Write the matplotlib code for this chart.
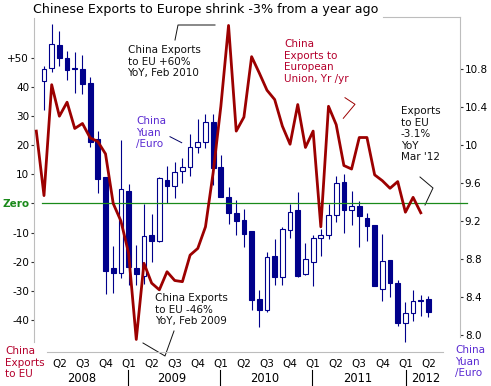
import numpy as np
import matplotlib
matplotlib.use('Agg')
import matplotlib.pyplot as plt
import matplotlib.transforms as mtransforms

# --- data ---
# months counted from Jan 2008 (0 = Jan 2008)
candle_month = list(range(1, 52))
yuan_open = [10.67, 10.81, 11.05, 10.92, 10.81, 10.80, 10.65, 10.06, 9.66, 8.70,
             8.65, 9.52, 8.70, 8.62, 9.05, 8.99, 9.63, 9.57, 9.73, 9.77,
             9.98, 10.03, 10.24, 9.77, 9.45, 9.28, 9.21, 9.09, 8.38, 8.26,
             8.83, 8.61, 9.10, 9.31, 8.64, 8.77, 9.02, 9.05, 9.26, 9.61,
             9.31, 9.36, 9.23, 9.16, 8.48, 8.79, 8.55, 8.13, 8.23, 8.37, 8.38]
yuan_high = [10.83, 11.27, 11.20, 10.99, 10.98, 10.95, 10.72, 10.15, 9.66, 8.94,
             10.05, 9.59, 8.95, 9.38, 9.27, 9.66, 9.78, 9.82, 9.86, 10.11,
             10.27, 10.33, 10.33, 9.89, 9.56, 9.42, 9.33, 9.09, 8.47, 8.87,
             9.01, 9.14, 9.38, 9.50, 8.97, 9.05, 9.11, 9.38, 9.67, 9.69,
             9.51, 9.41, 9.28, 9.16, 9.06, 8.79, 8.58, 8.35, 8.47, 8.42, 8.41]
yuan_low = [10.37, 10.77, 10.83, 10.68, 10.55, 10.54, 9.98, 9.49, 8.43, 8.44,
            8.60, 8.53, 8.53, 8.54, 8.77, 8.98, 9.39, 9.44, 9.60, 9.67,
            9.91, 9.97, 9.58, 9.45, 9.17, 9.05, 8.93, 8.26, 8.08, 8.24,
            8.53, 8.53, 9.02, 8.61, 8.63, 8.51, 8.83, 9.01, 9.19, 9.07,
            9.16, 8.93, 8.99, 8.51, 8.36, 8.40, 8.09, 7.93, 8.15, 8.20, 8.19]
yuan_close = [10.80, 11.06, 10.91, 10.79, 10.80, 10.64, 10.03, 9.64, 8.67, 8.65,
              9.54, 8.72, 8.64, 9.04, 8.99, 9.65, 9.57, 9.72, 9.77, 9.98,
              10.03, 10.24, 9.76, 9.45, 9.28, 9.20, 9.06, 8.37, 8.26, 8.82,
              8.61, 9.11, 9.29, 8.62, 8.80, 9.02, 9.05, 9.26, 9.60, 9.31,
              9.36, 9.25, 9.15, 8.51, 8.78, 8.55, 8.13, 8.23, 8.36, 8.36, 8.24]

export_month = list(range(0, 51))
export_yoy = [24.8, 2.7, 40.7, 29.9, 34.7, 25.7, 27.4, 22.5, 21.2, 17.0,
              0.0, -6.0, -17.0, -46.6, -20.5, -27.3, -29.6, -23.4, -26.4, -26.8,
              -17.7, -15.4, -8.0, 10.6, 33.3, 61.0, 24.8, 29.6, 50.3, 44.7,
              38.8, 35.6, 26.5, 20.3, 33.9, 19.2, 24.8, -8.0, 33.3, 27.0,
              13.0, 11.8, 22.6, 22.6, 9.8, 7.8, 5.2, 7.5, -3.0, 2.1, -3.2]

left_ticks = [50, 40, 30, 20, 10, 0, -10, -20, -30, -40]
left_labels = ['+50', '40', '30', '20', '10', 'Zero', '-10', '-20', '-30', '-40']
right_ticks = [10.8, 10.4, 10.0, 9.6, 9.2, 8.8, 8.4, 8.0]
right_labels = ['10.8', '10.4', '10', '9.6', '9.2', '8.8', '8.4', '8.0']
quarter_pos = list(range(3, 52, 3))
quarter_labels = ['Q2', 'Q3', 'Q4', 'Q1', 'Q2', 'Q3', 'Q4', 'Q1', 'Q2', 'Q3', 'Q4',
                  'Q1', 'Q2', 'Q3', 'Q4', 'Q1', 'Q2']
years = ['2008', '2009', '2010', '2011', '2012']
year_pos = [5.9, 17.6, 29.7, 41.8, 50.6]
year_breaks = [11.9, 23.9, 35.85, 48.05]

W, H = 491, 386
navy = '#00008b'
dark_red = '#9c0000'
text_red = '#b4002c'
purple = '#5a2ad2'
grey = '#bdbdbd'


def fx(x):
    return x / W


def fy(y):
    return 1 - y / H


fig = plt.figure(figsize=(W / 100, H / 100), dpi=100)
ax = fig.add_axes([fx(34), fy(352), (460 - 34) / W, (352 - 16.7) / H])
ax2 = ax.twinx()
ax.set_zorder(2)
ax2.set_zorder(1)
ax.patch.set_visible(False)

ax.set_xlim(-0.3, 55.1)
ax.set_ylim(-50.9, 64.0)
ax2.set_ylim(7.82, 11.35)

# candlesticks (right axis)
for m, o, h, l, c in zip(candle_month, yuan_open, yuan_high, yuan_low, yuan_close):
    ax2.vlines(m, l, h, color=navy, lw=0.8, zorder=2)
    face = navy if c < o else 'white'
    ax2.bar(m, abs(c - o), bottom=min(o, c), width=0.62, facecolor=face,
            edgecolor=navy, linewidth=0.8, zorder=3)

# zero line and exports line (left axis)
ax.axhline(0, xmin=0.019, xmax=1.016, color='#1a8a1a', lw=0.9, clip_on=False, zorder=3)
ax.plot(export_month, export_yoy, color=dark_red, lw=2.0, zorder=4)

# spines
for s in ['top', 'right']:
    ax.spines[s].set_visible(False)
for s in ['left', 'bottom']:
    ax2.spines[s].set_visible(False)
ax.spines['left'].set_color(grey)
ax.spines['bottom'].set_color(grey)
ax2.spines['right'].set_color(grey)
ax2.spines['top'].set_color(grey)
ax.spines['left'].set_bounds(-47.4, 63.5)
ax.spines['bottom'].set_bounds(1.4, 52.9)
ax2.spines['right'].set_bounds(7.98, 11.35)
ax2.spines['top'].set_bounds(45.1, 55.1)

# ticks
ax.set_yticks(left_ticks)
ax.set_yticklabels(left_labels)
ax.tick_params(axis='y', length=2.5, width=0.8, color='#333333', pad=1,
               labelsize=7.5, direction='out')
for lab in ax.get_yticklabels():
    if lab.get_text() == 'Zero':
        lab.set_color('#1a8a1a')
        lab.set_fontweight('bold')
ax2.set_yticks(right_ticks)
ax2.set_yticklabels(right_labels)
ax2.tick_params(axis='y', length=2.5, width=0.8, color='#333333', pad=1,
                labelsize=7.5, direction='out')
ax.set_xticks(quarter_pos)
ax.set_xticklabels(quarter_labels)
ax.tick_params(axis='x', length=0, pad=5, labelsize=7.5)

# years below quarters
xfig = mtransforms.blended_transform_factory(ax.transData, fig.transFigure)
for yr, p in zip(years, year_pos):
    ax.text(p, fy(378), yr, transform=xfig, ha='center', va='center', fontsize=8.3)
for b in year_breaks:
    ax.plot([b, b], [fy(370), fy(386)], color='black', lw=0.8, clip_on=False,
            transform=xfig)

# title
fig.text(fx(33), fy(10), 'Chinese Exports to Europe shrink -3% from a year ago',
         ha='left', va='center', fontsize=9.1)

# annotations
ts = dict(ha='left', va='top', fontsize=7.5, linespacing=1.2)
fig.text(fx(127.5), fy(45), 'China Exports\nto EU +60%\nYoY, Feb 2010', color='#111111', **ts)
fig.text(fx(155), fy(293), 'China Exports\nto EU -46%\nYoY, Feb 2009', color='#111111', **ts)
fig.text(fx(284), fy(39), 'China\nExports to\nEuropean\nUnion, Yr /yr', color=text_red, **ts)
fig.text(fx(136), fy(116), 'China\nYuan\n/Euro', color=purple, **ts)
fig.text(fx(400.7), fy(106), "Exports\nto EU\n-3.1%\nYoY\nMar '12", color='#111111', **ts)
fig.text(fx(5), fy(346), 'China\nExports\nto EU', color=text_red, **ts)
fig.text(fx(455), fy(345), 'China\nYuan\n/Euro', color=purple, **ts)

# leader lines
leaders = [
    ([175, 178, 215], [40, 25, 25], '#111111'),
    ([143, 165, 174], [343, 356, 331], '#111111'),
    ([345, 355, 343.3], [97.7, 104.3, 118.3], dark_red),
    ([170, 181.7], [136.7, 142.7], '#000066'),
    ([420, 433, 425], [177, 188, 205], '#111111'),
]
for xs, ys, col in leaders:
    fig.add_artist(plt.Line2D([fx(v) for v in xs], [fy(v) for v in ys],
                              color=col, lw=0.7))

fig.savefig('out.png', dpi=100)
